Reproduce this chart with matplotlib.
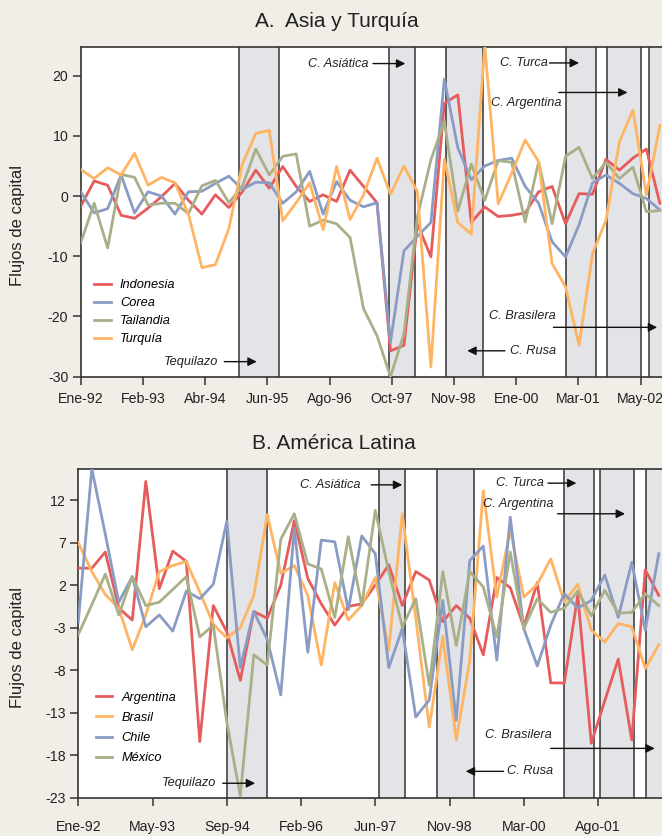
import matplotlib
matplotlib.use('Agg')
import matplotlib.pyplot as plt

FONT = ['Liberation Sans', 'DejaVu Sans']
plt.rcParams['font.family'] = FONT
plt.rcParams['axes.unicode_minus'] = False

# quarterly data, 1992Q1 - 2002Q4
asia_labels = ['Indonesia', 'Corea', 'Tailandia', 'Turquía']
indonesia = [-1.7, 2.5, 1.8, -3.2, -3.7, -2.0, -0.1, 2.1, -0.7, -3.0, 0.2, -1.9, 0.7, 4.3, 1.3,
             4.9, 1.6, -0.9, 0.2, -0.9, 4.3, 1.6, -1.1, -25.7, -24.8, -4.6, -10.1, 15.4, 16.8,
             -4.4, -1.8, -3.4, -3.2, -2.8, 0.7, 1.6, -4.6, 0.4, 0.3, 6.1, 4.3, 6.3, 7.8, -1.2]
corea = [0.7, -2.8, -2.1, 3.5, -2.8, 0.7, 0.0, -3.0, 0.7, 0.8, 2.1, 3.3, 1.1, 2.3, 2.2,
         -1.2, 0.7, 4.1, -3.0, 2.4, -0.7, -1.8, -1.1, -24.3, -9.1, -6.7, -4.4, 19.4, 8.0,
         2.7, 5.0, 5.9, 6.3, 1.6, -1.2, -7.6, -10.1, -4.8, 2.2, 3.5, 2.1, 0.4, -0.4, -2.3]
tailandia = [-7.8, -1.2, -8.6, 3.6, 3.1, -1.5, -1.2, -1.2, -2.9, 1.7, 2.6, -1.1, 1.6, 7.8, 3.5,
             6.6, 7.0, -5.0, -4.0, -4.6, -6.9, -18.7, -23.2, -30.0, -22.9, -3.4, 6.0, 12.4, -2.5,
             5.3, -0.7, 5.9, 5.6, -4.3, 5.7, -4.6, 6.6, 8.1, 2.9, 5.6, 2.9, 4.8, -2.6, -2.4]
turquia = [4.4, 2.9, 4.7, 3.5, 7.1, 1.8, 3.1, 2.2, -3.0, -11.9, -11.4, -5.4, 5.3, 10.4, 10.9,
           -4.1, -1.1, 2.2, -5.6, 4.9, -3.9, 0.2, 6.3, 0.3, 5.0, 0.7, -28.4, 6.1, -4.4,
           -6.3, 25.0, -1.3, 3.8, 9.3, 5.7, -11.2, -15.1, -24.8, -9.6, -4.0, 9.0, 14.3, 0.2, 11.7]

latam_labels = ['Argentina', 'Brasil', 'Chile', 'México']
argentina = [4.0, 4.0, 5.9, -0.7, -2.1, 14.2, 1.6, 6.0, 4.8, -16.4, -0.4, -3.5, -9.2, -1.1, -1.9,
             2.0, 9.6, 2.8, -0.2, -2.7, -0.5, -0.2, 2.0, 4.4, -0.4, 3.6, 2.6, -2.3, -0.4,
             -1.9, -6.2, 2.9, 1.7, -2.9, 2.3, -9.5, -9.5, 0.8, -16.6, -11.6, -6.7, -16.2, 3.8, 0.8]
brasil = [7.0, 3.6, 0.9, -0.7, -5.6, -1.5, 3.6, 4.3, 4.8, 1.2, -2.6, -4.2, -3.0, 0.8, 10.3,
          3.4, 4.3, 0.8, -7.4, 2.3, -2.1, -0.4, 2.9, -5.6, 10.4, -1.9, -14.7, -4.0, -16.2,
          -6.8, 13.1, 0.6, 8.5, 0.6, 2.1, 5.1, 0.0, 2.1, -3.3, -4.7, -2.5, -2.9, -7.8, -5.0]
chile = [-2.3, 15.7, 8.0, 0.0, 3.0, -2.9, -1.5, -3.4, 1.3, 0.4, 2.1, 9.5, -7.7, -1.1, -4.4,
         -10.9, 8.7, -5.9, 7.3, 7.1, -0.9, 7.8, 5.7, -7.7, -3.1, -13.5, -11.5, 0.2, -13.9,
         4.9, 6.6, -6.8, 10.0, -3.1, -7.5, -2.7, 1.0, -0.7, 0.2, 3.2, -1.8, 4.7, -3.3, 5.7]
mexico = [-3.8, -0.3, 3.3, -1.5, 3.0, -0.4, 0.0, 1.5, 3.0, -4.1, -2.7, -14.1, -22.8, -6.2, -7.4,
          7.4, 10.4, 4.5, 3.9, -1.8, 7.7, -0.4, 10.8, 3.6, -2.9, 0.4, -9.8, 3.6, -5.1,
          3.6, 1.8, -4.1, 5.9, -3.1, 0.4, -1.2, -0.7, 1.3, -1.6, 1.4, -1.3, -1.2, 1.0, -0.4]

# crisis bands (in quarter index units)
asia_bands = [(11.77, 14.74), (22.87, 24.84), (27.12, 29.89), (36.0, 38.23), (39.07, 41.57), (42.2, 45)]
latam_bands = [(10.99, 13.96), (22.25, 24.22), (26.55, 29.33), (35.96, 38.18), (38.67, 41.14), (42.07, 45)]

asia_ticks = ['Ene-92', 'Feb-93', 'Abr-94', 'Jun-95', 'Ago-96', 'Oct-97', 'Nov-98', 'Ene-00', 'Mar-01', 'May-02']
latam_ticks = ['Ene-92', 'May-93', 'Sep-94', 'Feb-96', 'Jun-97', 'Nov-98', 'Mar-00', 'Ago-01']

RED, BLUE, OLIVE, ORANGE = '#e65c5c', '#8a9cc4', '#a9b089', '#ffb463'
asia_colors = [RED, BLUE, OLIVE, ORANGE]
latam_colors = [RED, ORANGE, BLUE, OLIVE]
BG = '#f1eee7'
DARK = '#333333'

# annotations: text, text pos, arrow start, arrow end
asia_notes = [
    ('C. Asiática', (19.1, 22.0), (21.7, 22.0), (24.1, 22.0)),
    ('C. Turca', (32.9, 22.1), (34.8, 22.1), (37.0, 22.1)),
    ('C. Argentina', (33.1, 15.4), (35.5, 17.2), (40.6, 17.2)),
    ('C. Brasilera', (32.8, -19.9), (35.1, -21.8), (42.8, -21.8)),
    ('C. Rusa', (33.6, -25.7), (31.5, -25.7), (28.7, -25.7)),
    ('Tequilazo', (8.2, -27.5), (10.66, -27.5), (13.07, -27.5)),
]
latam_notes = [
    ('C. Asiática', (18.7, 13.8), (21.7, 13.8), (24.0, 13.8)),
    ('C. Turca', (32.7, 14.0), (34.8, 14.0), (36.9, 14.0)),
    ('C. Argentina', (32.6, 11.6), (35.5, 10.4), (40.5, 10.4)),
    ('C. Brasilera', (32.6, -15.6), (35.0, -17.2), (42.7, -17.2)),
    ('C. Rusa', (33.5, -19.9), (31.5, -19.9), (28.7, -19.9)),
    ('Tequilazo', (8.2, -21.3), (10.7, -21.3), (13.1, -21.3)),
]

fig = plt.figure(figsize=(6.62, 8.36), dpi=100, facecolor=BG)

W, H = 662.0, 836.0


def panel(rect, series, labels, colors, bands, ticks, tick_step, xmax, ylim, yticks, notes,
          title, title_y, leg_anchor, leg_space, xpad):
    l, t, r, b = rect
    ax = fig.add_axes([l / W, 1 - b / H, (r - l) / W, (b - t) / H])
    ax.set_facecolor('white')
    for x0, x1 in bands:
        ax.axvspan(x0, x1, color='#e3e4e7', zorder=0, lw=0)
        ax.axvline(x0, color=DARK, lw=1.1, zorder=1)
        ax.axvline(x1, color=DARK, lw=1.1, zorder=1)
    x = list(range(len(series[0])))
    handles = []
    for s, lab, c in zip(series, labels, colors):
        h, = ax.plot(x, s, color=c, lw=2.0, label=lab, zorder=3)
        handles.append(h)
    ax.set_xlim(0, xmax)
    ax.set_ylim(*ylim)
    ax.set_yticks(yticks)
    ax.set_xticks([i * tick_step for i in range(len(ticks))])
    ax.set_xticklabels(ticks)
    ax.tick_params(direction='out', length=6, width=1.1, color=DARK, labelsize=10.2,
                   labelcolor='#222222', pad=3)
    ax.tick_params(axis='x', pad=xpad)
    ax.spines['right'].set_visible(False)
    for sp in ['left', 'bottom', 'top']:
        ax.spines[sp].set_color(DARK)
        ax.spines[sp].set_linewidth(1.2)
    for txt, tpos, a0, a1 in notes:
        ax.text(tpos[0], tpos[1], txt, ha='center', va='center', fontsize=9.2, style='italic',
                color='#222222', zorder=5)
        ax.annotate('', xy=a1, xytext=a0,
                    arrowprops=dict(arrowstyle='-|>', color='#111111', lw=1.0, mutation_scale=13,
                                    shrinkA=0, shrinkB=0), zorder=5)
    ax.legend(handles=handles, loc='upper left', bbox_to_anchor=leg_anchor, frameon=False,
              borderaxespad=0, borderpad=0, handlelength=1.28, handletextpad=0.72,
              labelspacing=leg_space, prop=dict(family=FONT, style='italic', size=9.2))
    fig.text((l + 256) / W, 1 - title_y / H, title, ha='center', va='center', fontsize=15,
             color='#222222')
    fig.text(18 / W, 1 - ((t + b) / 2 + 14) / H, 'Flujos de capital', rotation=90,
             ha='center', va='center', fontsize=12, color='#222222')
    return ax


panel((80.7, 47.3, 662, 376.7), [indonesia, corea, tailandia, turquia], asia_labels, asia_colors,
      asia_bands, asia_ticks, 4.62, 43.16, (-30, 24.7), [-30, -20, -10, 0, 10, 20],
      asia_notes, 'A.  Asia y Turquía', 21.7, (0.0234, 0.2966), 0.48, 5)

panel((78.3, 468.7, 662, 797.7), [argentina, brasil, chile, mexico], latam_labels, latam_colors,
      latam_bands, latam_ticks, 5.5, 43.24, (-23, 15.7), [-23, -18, -13, -8, -3, 2, 7, 12],
      latam_notes, 'B. América Latina', 443.3, (0.030, 0.322), 0.64, 10)

fig.savefig('out.png', dpi=100, facecolor=BG)
